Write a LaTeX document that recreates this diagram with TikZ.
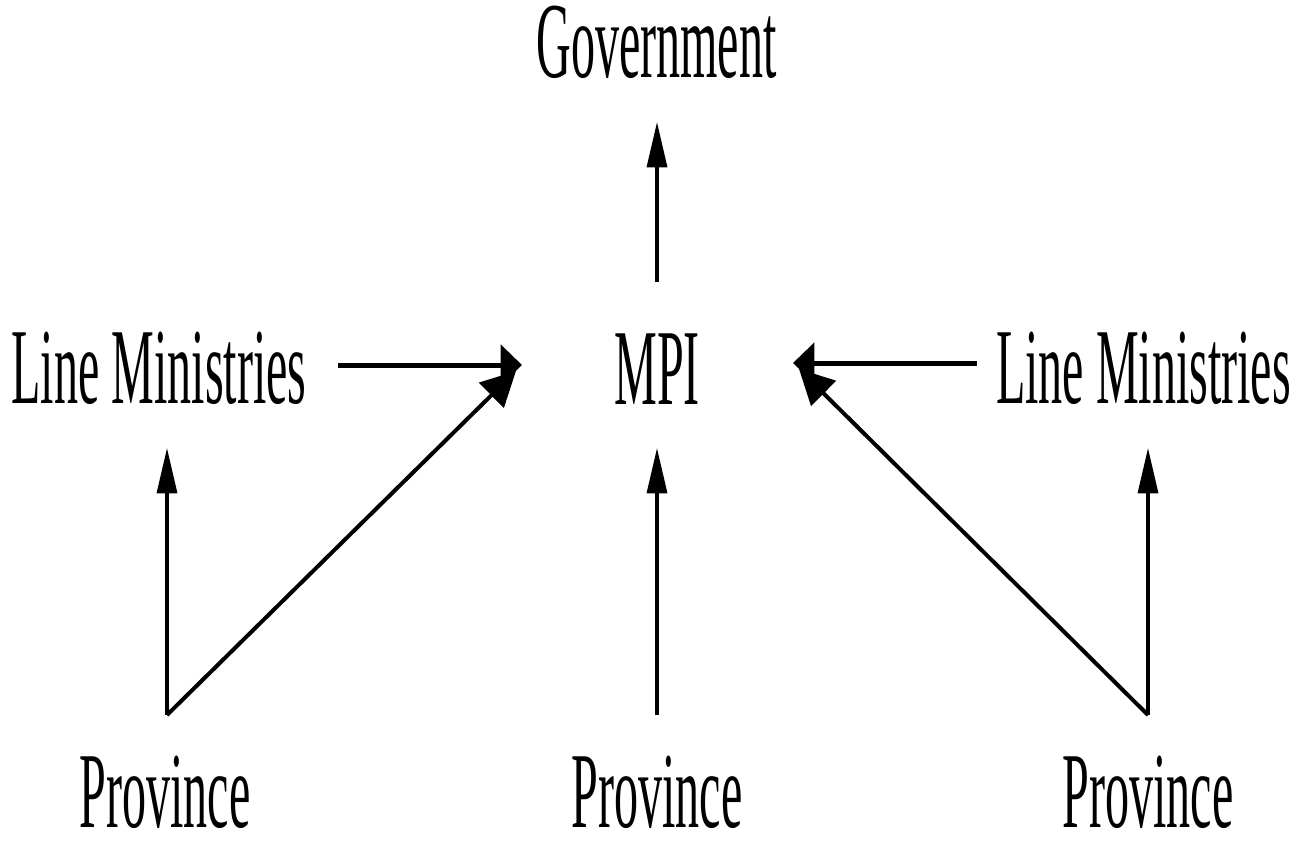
\documentclass[tikz,border=0pt]{standalone}
\usepackage{fontspec}
\newfontfamily\cf[FakeStretch=0.445]{Liberation Serif}
\usetikzlibrary{arrows.meta}
\begin{document}
\begin{tikzpicture}[x=0.75pt,y=-0.75pt,
  lbl/.style={inner sep=0pt,anchor=base,text depth=0pt,text height=0.66em,font=\cf\fontsize{81}{84}\selectfont},
  varrow/.style={line width=2.5pt,-{Triangle[length=34pt,width=15pt]}},
  harrow/.style={line width=3.75pt,-{Triangle[length=16pt,width=30pt]}},
  darrow/.style={line width=3pt,line join=miter,-{Triangle[length=26pt,width=26pt]}}]
\useasboundingbox (0,0) rectangle (1303,842);
% texts
\node[lbl] (gov) at (656.5,78) {Government};
\node[lbl] (mpi) at (657,404) {MPI};
\node[lbl] (lml) at (159,403) {Line Ministries};
\node[lbl] (lmr) at (1143.5,403) {Line Ministries};
\node[lbl] (pl) at (165,827) {Province};
\node[lbl] (pm) at (657,827) {Province};
\node[lbl] (pr) at (1148,827) {Province};
% connector ends
\coordinate (govin) at (657,122);
\coordinate (mpiout) at (657,282);
\coordinate (mpiinL) at (522,365);
\coordinate (mpiinLd) at (516,371);
\coordinate (mpiinR) at (793,363);
\coordinate (mpiinRd) at (799,369);
\coordinate (mpiinB) at (657,448);
\coordinate (lmlout) at (338,365);
\coordinate (lmrout) at (977,363);
\coordinate (lmlin) at (167,448);
\coordinate (lmrin) at (1148,448);
\coordinate (plout) at (167,715);
\coordinate (pmout) at (657,715);
\coordinate (prout) at (1148,715);
% connectors
\draw[varrow] (mpiout) -- (govin);
\draw[harrow] (lmlout) -- (mpiinL);
\draw[harrow] (lmrout) -- (mpiinR);
\draw[varrow] (pmout) -- (mpiinB);
\draw[varrow] (plout) -- (lmlin);
\draw[varrow] (prout) -- (lmrin);
\draw[darrow] (plout) -- (mpiinLd);
\draw[darrow] (prout) -- (mpiinRd);
\end{tikzpicture}
\end{document}
